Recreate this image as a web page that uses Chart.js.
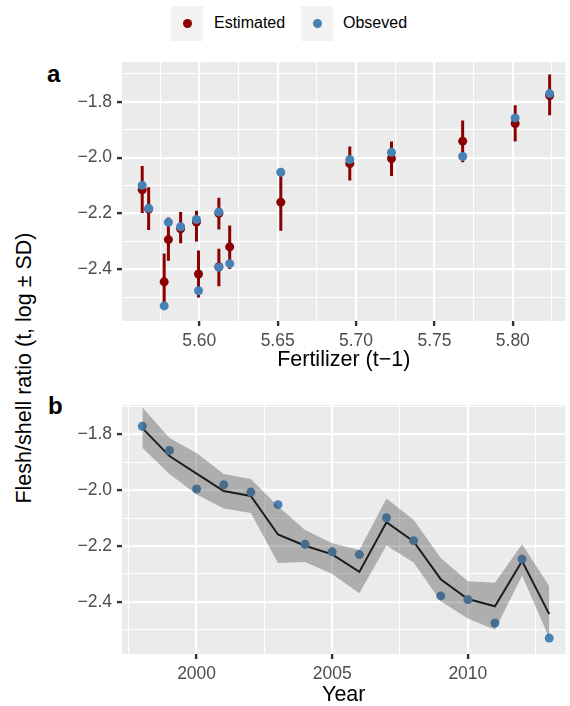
<!DOCTYPE html>
<html>
<head>
    <title>Flesh/shell ratio</title>
    <script src="https://cdn.jsdelivr.net/npm/chart.js"></script>
    <style>
        body { margin: 0; background: #fff; width: 570px; height: 706px; position: relative; overflow: hidden;
               font-family: "Liberation Sans", Arial, sans-serif; }
        canvas { position: absolute; left: 0; }
        .key { position: absolute; top: 6px; width: 32px; height: 35px; background: #F2F2F2; }
        .dot { position: absolute; left: 12px; top: 13px; width: 9px; height: 9px; border-radius: 50%; }
        .ltxt { position: absolute; top: 14px; font-size: 16px; line-height: 18px; color: #000; }
        .plab { position: absolute; font-size: 24px; font-weight: bold; color: #000; line-height: 24px; }
        #ytitle { position: absolute; left: 24px; top: 368px; transform: translate(-50%, -50%) rotate(-90deg);
                  white-space: nowrap; font-size: 21.5px; color: #000; }
    </style>
</head>
<body>
    <div class="key" style="left:171px"><div class="dot" style="background:#8B0000"></div></div>
    <div class="ltxt" style="left:214px">Estimated</div>
    <div class="key" style="left:301px"><div class="dot" style="background:#4682B4"></div></div>
    <div class="ltxt" style="left:343px">Obseved</div>
    <div class="plab" style="left:47px; top:62px">a</div>
    <div class="plab" style="left:48px; top:394px">b</div>
    <div id="ytitle">Flesh/shell ratio (t, log ± SD)</div>

    <canvas id="chartA" width="570" height="380" style="top:0"></canvas>
    <canvas id="chartB" width="570" height="326" style="top:380px"></canvas>

    <script>
        // data, one entry per year
        var years = [1998, 1999, 2000, 2001, 2002, 2003, 2004, 2005, 2006, 2007, 2008, 2009, 2010, 2011, 2012, 2013];
        var fertilizer = [5.8235, 5.8015, 5.768, 5.7226, 5.696, 5.652, 5.6125, 5.5982, 5.5803, 5.5636, 5.5677, 5.6194, 5.6125, 5.5995, 5.5881, 5.5776];
        var estimated = [-1.778, -1.878, -1.941, -2.003, -2.021, -2.159, -2.199, -2.230, -2.293, -2.115, -2.184, -2.319, -2.390, -2.416, -2.254, -2.444];
        var estLower = [-1.848, -1.942, -2.016, -2.066, -2.082, -2.261, -2.257, -2.300, -2.369, -2.198, -2.259, -2.398, -2.460, -2.500, -2.306, -2.530];
        var estUpper = [-1.703, -1.813, -1.867, -1.942, -1.960, -2.058, -2.143, -2.190, -2.214, -2.030, -2.106, -2.243, -2.326, -2.332, -2.194, -2.343];
        var observed = [-1.771, -1.858, -1.996, -1.981, -2.007, -2.052, -2.194, -2.221, -2.231, -2.099, -2.181, -2.379, -2.392, -2.476, -2.247, -2.530];

        // ticks (majors get labels, the rest are minor grid lines)
        var yTicks = [-2.5, -2.4, -2.3, -2.2, -2.1, -2.0, -1.9, -1.8, -1.7];
        var xTicksA = [5.575, 5.60, 5.625, 5.65, 5.675, 5.70, 5.725, 5.75, 5.775, 5.80, 5.825];
        var xTicksB = [1997.5, 2000, 2002.5, 2005, 2007.5, 2010, 2012.5];

        Chart.defaults.font.family = '"Liberation Sans", Arial, sans-serif';
        Chart.defaults.animation = false;
        Chart.defaults.events = [];
        Chart.defaults.plugins.legend.display = false;
        Chart.defaults.plugins.tooltip.enabled = false;

        var panelBg = {
            id: 'panelBg',
            beforeDraw: function(chart) {
                var a = chart.chartArea, ctx = chart.ctx;
                ctx.save();
                ctx.fillStyle = '#EBEBEB';
                ctx.fillRect(a.left, a.top, a.right - a.left, a.bottom - a.top);
                ctx.restore();
            }
        };

        function yMajor(v) { return Math.abs(Math.round(v * 10)) % 2 === 0; }
        function aMajor(v) { return Math.round(v * 1000) % 50 === 0; }
        function bMajor(v) { return Math.abs(v % 5) < 1e-6; }
        function minus(s) { return s.replace('-', '\u2212'); }

        function axis(ticks, isMajor, fmt, min, max, size, title, titlePad) {
            var ax = {
                type: 'linear',
                min: min,
                max: max,
                border: { display: false },
                afterBuildTicks: function(s) { s.ticks = ticks.map(function(v) { return { value: v }; }); },
                grid: {
                    color: '#FFFFFF',
                    lineWidth: function(c) { return c.tick && isMajor(c.tick.value) ? 2.2 : 1.1; },
                    tickColor: function(c) { return c.tick && isMajor(c.tick.value) ? '#333333' : 'rgba(0,0,0,0)'; },
                    tickWidth: 2.4,
                    tickLength: 5
                },
                ticks: {
                    autoSkip: false,
                    maxRotation: 0,
                    color: '#4D4D4D',
                    font: { size: 17.5 },
                    padding: 5,
                    callback: function(v) { return isMajor(v) ? minus(fmt(v)) : ''; }
                },
                afterFit: function(s) {
                    if (s.isHorizontal()) s.height = size; else s.width = size;
                }
            };
            if (title) {
                ax.title = { display: true, text: title, color: '#000', font: { size: 21.5, lineHeight: 1 },
                             padding: { top: 0, bottom: titlePad } };
            }
            return ax;
        }

        // error bars as short segments separated by gaps
        var barPoints = [];
        for (var i = 0; i < years.length; i++) {
            barPoints.push({ x: fertilizer[i], y: estLower[i] });
            barPoints.push({ x: fertilizer[i], y: estUpper[i] });
            barPoints.push({ x: fertilizer[i], y: null });
        }

        new Chart(document.getElementById('chartA').getContext('2d'), {
            type: 'scatter',
            data: {
                datasets: [{
                    label: 'Obseved',
                    data: fertilizer.map(function(f, i) { return { x: f, y: observed[i] }; }),
                    backgroundColor: '#4682B4',
                    borderWidth: 0,
                    pointRadius: 4.5,
                    order: 0
                }, {
                    label: 'Estimated',
                    data: fertilizer.map(function(f, i) { return { x: f, y: estimated[i] }; }),
                    backgroundColor: '#8B0000',
                    borderWidth: 0,
                    pointRadius: 4.5,
                    order: 1
                }, {
                    type: 'line',
                    label: 'SD',
                    data: barPoints,
                    borderColor: '#8B0000',
                    borderWidth: 3,
                    pointRadius: 0,
                    spanGaps: false,
                    order: 2
                }]
            },
            options: {
                responsive: false,
                layout: { padding: { top: 62, left: 0, right: 0, bottom: 0 } },
                scales: {
                    x: axis(xTicksA, aMajor, function(v) { return v.toFixed(2); }, 5.5507, 5.8336, 59, 'Fertilizer (t\u22121)', 9),
                    y: axis(yTicks, yMajor, function(v) { return v.toFixed(1); }, -2.584, -1.658, 122)
                }
            },
            plugins: [panelBg]
        });

        new Chart(document.getElementById('chartB').getContext('2d'), {
            type: 'line',
            data: {
                datasets: [{
                    label: 'upper',
                    data: years.map(function(y, i) { return { x: y, y: estUpper[i] }; }),
                    borderWidth: 0,
                    pointRadius: 0,
                    fill: '+1',
                    backgroundColor: 'rgba(77,77,77,0.38)',
                    order: 0
                }, {
                    label: 'lower',
                    data: years.map(function(y, i) { return { x: y, y: estLower[i] }; }),
                    borderWidth: 0,
                    pointRadius: 0,
                    fill: false,
                    order: 1
                }, {
                    label: 'Estimated',
                    data: years.map(function(y, i) { return { x: y, y: estimated[i] }; }),
                    borderColor: '#000000',
                    borderWidth: 2,
                    pointRadius: 0,
                    tension: 0,
                    fill: false,
                    order: 3
                }, {
                    label: 'Obseved',
                    data: years.map(function(y, i) { return { x: y, y: observed[i] }; }),
                    showLine: false,
                    backgroundColor: '#4682B4',
                    borderWidth: 0,
                    pointRadius: 4.5,
                    fill: false,
                    order: 2
                }]
            },
            options: {
                responsive: false,
                layout: { padding: { top: 25, left: 0, right: 0, bottom: 0 } },
                scales: {
                    x: axis(xTicksB, bMajor, function(v) { return String(v); }, 1997.25, 2013.6, 52, 'Year', 0),
                    y: axis(yTicks, yMajor, function(v) { return v.toFixed(1); }, -2.587, -1.695, 122)
                }
            },
            plugins: [panelBg]
        });
    </script>
</body>
</html>
